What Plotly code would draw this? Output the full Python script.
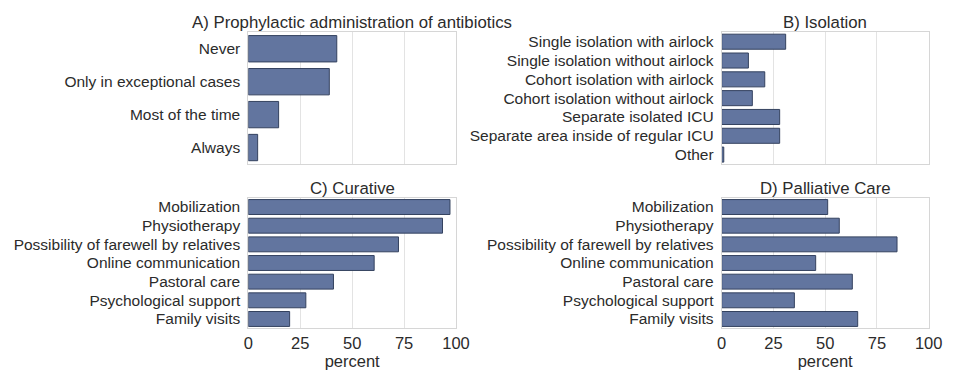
import plotly.graph_objects as go

W, H = 960, 384

# ---- data ----
a_labels = ["Never", "Only in exceptional cases", "Most of the time", "Always"]
a_values = [42.6, 39.0, 14.6, 4.5]

b_labels = ["Single isolation with airlock", "Single isolation without airlock",
            "Cohort isolation with airlock", "Cohort isolation without airlock",
            "Separate isolated ICU", "Separate area inside of regular ICU", "Other"]
b_values = [30.9, 12.9, 20.8, 14.8, 28.0, 28.0, 1.0]

care_labels = ["Mobilization", "Physiotherapy", "Possibility of farewell by relatives",
               "Online communication", "Pastoral care", "Psychological support", "Family visits"]
c_values = [97.1, 93.5, 72.3, 60.6, 41.0, 27.7, 19.9]
d_values = [51.2, 56.8, 84.7, 45.4, 63.1, 35.1, 65.7]

titles = ["A) Prophylactic administration of antibiotics", "B) Isolation",
          "C) Curative", "D) Palliative Care"]
x_ticks = [0, 25, 50, 75, 100]

# ---- layout geometry (pixels) ----
def px_x(a, b):
    return [a / W, b / W]

def px_y(top, bottom):
    return [1 - bottom / H, 1 - top / H]

panels = [
    (a_labels, a_values, px_x(248.3, 456), px_y(32.3, 164.0), False),
    (b_labels, b_values, px_x(721.7, 928.7), px_y(32.3, 164.0), False),
    (care_labels, c_values, px_x(248.3, 456), px_y(197.7, 328.3), True),
    (care_labels, d_values, px_x(721.7, 928.7), px_y(197.7, 328.3), True),
]

BAR = "#62759f"
EDGE = "#34425f"
TXT = "#2b2b2b"
FONT = "Liberation Sans, Arial, sans-serif"

fig = go.Figure()
layout = dict(
    width=W, height=H,
    margin=dict(l=0, r=0, t=0, b=0, autoexpand=False),
    paper_bgcolor="white", plot_bgcolor="white",
    showlegend=False,
    font=dict(family=FONT, color=TXT, size=15.5),
    bargap=0.2,
)
annotations = []
for i, (labels, vals, xd, yd, show_x) in enumerate(panels):
    n = i + 1
    xa = "x" if n == 1 else f"x{n}"
    ya = "y" if n == 1 else f"y{n}"
    fig.add_trace(go.Bar(
        x=vals, y=labels, orientation="h", xaxis=xa, yaxis=ya,
        marker=dict(color=BAR, line=dict(color=EDGE, width=1)),
        width=0.8, hoverinfo="x+y",
    ))
    layout["xaxis" if n == 1 else f"xaxis{n}"] = dict(
        domain=xd, anchor=ya, range=[0, 100], tickmode="array", tickvals=x_ticks,
        showticklabels=show_x, showgrid=True, gridcolor="#e3e3e3", gridwidth=1,
        zeroline=False, showline=True, linecolor="#d6d6d6", linewidth=1, mirror=True,
        ticks="", tickfont=dict(size=16.5, color=TXT), automargin=False,
        title=dict(text="percent" if show_x else "", font=dict(size=16.5, color=TXT), standoff=0),
        fixedrange=True,
    )
    layout["yaxis" if n == 1 else f"yaxis{n}"] = dict(
        domain=yd, anchor=xa, type="category", autorange=False,
        range=[len(labels) - 0.5, -0.5], tickmode="array", tickvals=labels, ticktext=labels,
        showgrid=False, zeroline=False, showline=True, linecolor="#d6d6d6",
        linewidth=1, mirror=True, ticks="", ticklabelstandoff=4, automargin=False,
        tickfont=dict(size=15.5, color=TXT), fixedrange=True,
    )
    annotations.append(dict(
        text=titles[i], xref="paper", yref="paper",
        x=(xd[0] + xd[1]) / 2, y=yd[1], xanchor="center", yanchor="bottom",
        yshift=-2, showarrow=False, font=dict(size=16.8, color=TXT, family=FONT),
    ))
layout["annotations"] = annotations
fig.update_layout(**layout)
fig.write_html("out.html", config={"displayModeBar": False},
               post_script="document.body.style.margin='0';document.body.style.overflow='hidden';")
